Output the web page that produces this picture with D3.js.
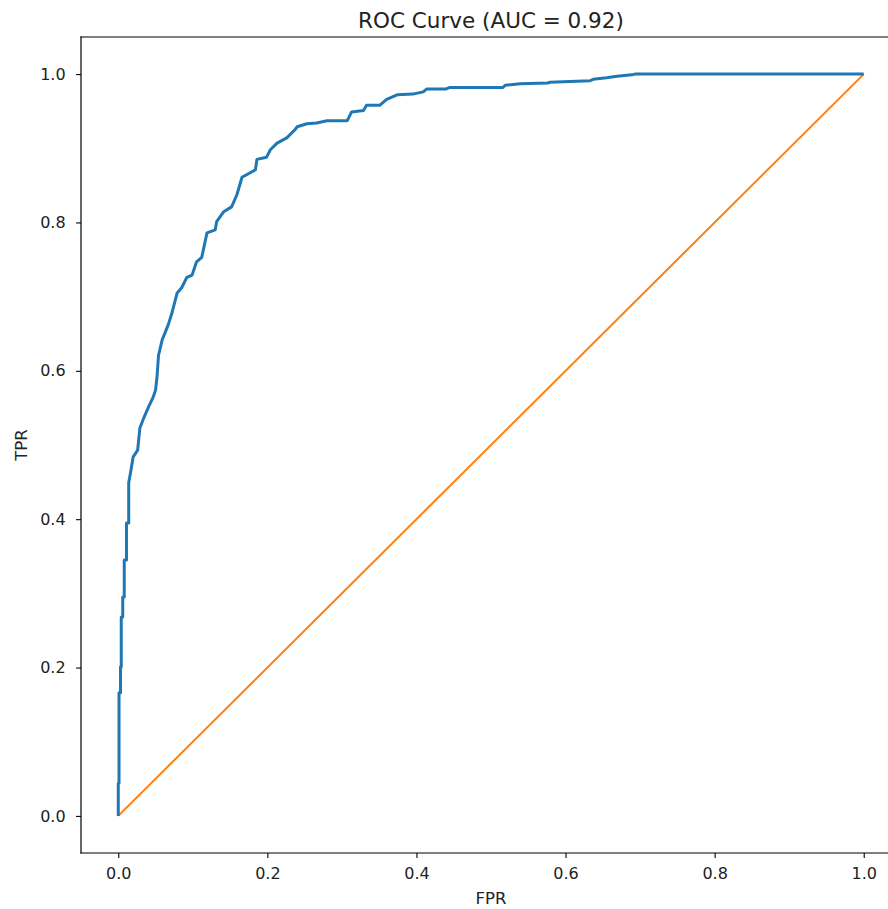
<!DOCTYPE html>
<html><head><meta charset="utf-8">
<script src="https://cdn.jsdelivr.net/npm/d3@7"></script>
<style>
body{margin:0;background:#fff;}
svg{display:block;font-family:"DejaVu Sans",sans-serif;}
</style></head>
<body>
<svg id="chart" width="888" height="909"></svg>
<script>
const title = "ROC Curve (AUC = 0.92)";
const xLabel = "FPR";
const yLabel = "TPR";
const xTicks = [0.0, 0.2, 0.4, 0.6, 0.8, 1.0];
const yTicks = [0.0, 0.2, 0.4, 0.6, 0.8, 1.0];
const fpr = [0,0.000,0.001,0.001,0.003,0.003,0.004,0.004,0.006,0.006,0.008,0.008,0.011,0.011,0.014,0.014,0.017,0.020,0.026,0.029,0.034,0.040,0.047,0.050,0.052,0.054,0.059,0.067,0.072,0.079,0.085,0.092,0.099,0.105,0.112,0.119,0.130,0.132,0.141,0.152,0.159,0.166,0.184,0.186,0.199,0.204,0.213,0.226,0.237,0.240,0.253,0.266,0.280,0.307,0.313,0.329,0.333,0.351,0.360,0.374,0.395,0.409,0.414,0.440,0.445,0.516,0.519,0.539,0.576,0.579,0.633,0.637,0.655,0.669,0.689,0.693,1.0];
const tpr = [0,0.044,0.044,0.166,0.166,0.201,0.201,0.268,0.268,0.295,0.295,0.345,0.345,0.395,0.395,0.449,0.466,0.484,0.493,0.523,0.536,0.550,0.565,0.574,0.592,0.621,0.642,0.662,0.678,0.705,0.712,0.726,0.729,0.747,0.753,0.786,0.790,0.801,0.814,0.821,0.837,0.861,0.871,0.885,0.888,0.898,0.907,0.914,0.925,0.929,0.933,0.934,0.937,0.937,0.949,0.951,0.958,0.958,0.966,0.972,0.973,0.976,0.980,0.980,0.982,0.982,0.985,0.987,0.988,0.989,0.991,0.993,0.995,0.997,0.999,1.0,1.0];
const diagX = [0, 1];
const diagY = [0, 1];

const svg = d3.select("#chart");
const L = 81, R = 901, T = 37, B = 853;
const x = d3.scaleLinear().domain([-0.05, 1.05]).range([L, R]);
const y = d3.scaleLinear().domain([-0.05, 1.05]).range([B, T]);

svg.append("defs").append("clipPath").attr("id","clip")
  .append("rect").attr("x",L).attr("y",T).attr("width",R-L).attr("height",B-T);

const g = svg.append("g").attr("clip-path","url(#clip)");
const line = d3.line().x(d => x(d[0])).y(d => y(d[1]));
g.append("path").datum(d3.zip(diagX, diagY)).attr("d", line)
  .attr("fill","none").attr("stroke","#ff7f0e").attr("stroke-width",2);
g.append("path").datum(d3.zip(fpr, tpr)).attr("d", line)
  .attr("fill","none").attr("stroke","#1f77b4").attr("stroke-width",3).attr("stroke-linejoin","round");

const fs = 16;
const xAxis = svg.append("g").attr("transform",`translate(0,${B})`)
  .call(d3.axisBottom(x).tickValues(xTicks).tickFormat(d3.format(".1f")).tickSizeOuter(0).tickSize(4.9).tickPadding(10));
const yAxis = svg.append("g").attr("transform",`translate(${L},0)`)
  .call(d3.axisLeft(y).tickValues(yTicks).tickFormat(d3.format(".1f")).tickSizeOuter(0).tickSize(4.9).tickPadding(10.5));
[xAxis, yAxis].forEach(a => {
  a.selectAll("text").attr("font-size", fs).attr("font-family","DejaVu Sans").attr("fill","#222");
  a.selectAll("line").attr("stroke","#000").attr("stroke-width",1.1);
  a.select(".domain").remove();
});
// spines
[[L,L,T,B],[L,R,B,B],[L,R,T,T],[R,R,T,B]].forEach(s => {
  svg.append("line").attr("x1",s[0]).attr("x2",s[1]).attr("y1",s[2]).attr("y2",s[3])
    .attr("stroke","#000").attr("stroke-width",1.2).attr("stroke-linecap","square");
});

svg.append("text").attr("x",(L+R)/2).attr("y",28).attr("text-anchor","middle")
  .attr("font-size",21.5).attr("fill","#222").text(title);
svg.append("text").attr("x",x(0.5)).attr("y",904).attr("text-anchor","middle")
  .attr("font-size",16.5).attr("fill","#222").text(xLabel);
svg.append("text").attr("transform",`translate(27,${y(0.5)}) rotate(-90)`).attr("text-anchor","middle")
  .attr("font-size",16.5).attr("fill","#222").text(yLabel);
</script>
</body></html>
